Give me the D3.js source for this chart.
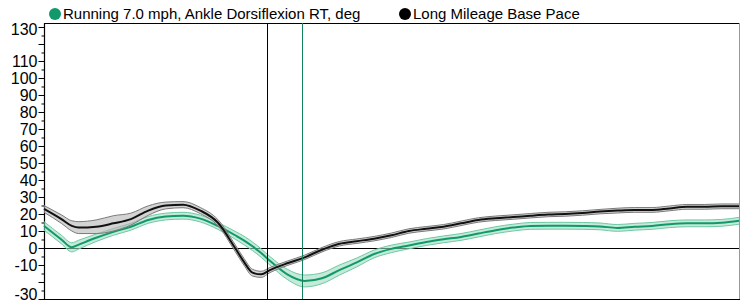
<!DOCTYPE html>
<html>
<head>
<meta charset="utf-8">
<script src="https://cdn.jsdelivr.net/npm/d3@7"></script>
<style>
  body { margin: 0; background: #fff; }
  text { font-family: "Liberation Sans", Arial, sans-serif; }
</style>
</head>
<body>
<div id="chart"></div>
<script>
// gait cycle positions (%) and values
var pct      = [0, 2.5, 4, 5, 7.5, 10, 12.5, 15, 17.5, 20, 22.5, 25, 27.5, 28.75, 30, 31.25, 32.5, 35, 37.5, 40, 42.5, 45, 47.5, 50, 52.5, 55, 57.5, 60, 62.5, 65, 67.5, 70, 72.5, 75, 77.5, 80, 82.5, 85, 87.5, 90, 92.5, 95, 97.5, 100];
var runMean  = [13, 5, 0.4, 2, 6, 9.5, 12.5, 16.5, 18.5, 19, 17.3, 13, 7.5, 4.5, 1, -3, -7.5, -15.5, -19.4, -17.8, -13, -8.5, -3.5, -0.5, 1.5, 3.5, 5.1, 6.5, 8.5, 10.5, 12, 13, 13.1, 13.1, 13, 12.7, 11.8, 12.5, 13, 14, 14.5, 14.5, 14.8, 16];
var runSd    = [2.5, 2.5, 2.7, 2.6, 2.2, 2, 2, 2, 2, 2, 2, 2, 2.3, 2.5, 2.5, 2.5, 2.5, 3, 3.5, 3.2, 3, 2.6, 2.3, 2.2, 2, 2, 2, 2, 2, 2, 2, 2, 2, 2, 2, 2, 2, 2, 2, 2, 2, 2, 2, 2];
var baseMean = [23, 17, 13, 12, 12.5, 14.5, 17, 22, 25, 25.5, 22, 15, 0, -8, -14.5, -15.5, -13, -9, -5.5, -1, 2.5, 4, 5.5, 7.5, 10, 11.3, 12.5, 14.5, 16.5, 17.5, 18.2, 19, 19.7, 20, 20.6, 21.4, 22, 22.4, 22.4, 23.3, 24.2, 24.2, 24.5, 24.5];
var baseSd   = [2, 2.5, 3, 3.5, 4, 4.5, 3.5, 2.8, 2, 1.8, 1.8, 1.8, 2, 2, 2, 1.8, 1.5, 1.3, 1.3, 1.3, 1.3, 1.3, 1.3, 1.3, 1.3, 1.3, 1.3, 1.3, 1.3, 1.3, 1.3, 1.3, 1.3, 1.3, 1.3, 1.3, 1.4, 1.4, 1.4, 1.4, 1.4, 1.4, 1.4, 1.4];
var markers  = [{ at: 32.1, color: "#000" }, { at: 37.1, color: "#12805a" }];
var yLabels  = [130, 110, 100, 90, 80, 70, 60, 50, 40, 30, 20, 10, 0, -10, -30];
var legendNames = ["Running 7.0 mph, Ankle Dorsiflexion RT, deg", "Long Mileage Base Pace"];

var W = 740, H = 302;
var plotL = 44, plotR = 739, plotT = 23, plotB = 299;

var svg = d3.select("#chart").append("svg")
  .attr("width", W).attr("height", H);

var x = d3.scaleLinear().domain([0, 100]).range([plotL, plotR]);
var y = d3.scaleLinear().domain([-30, 132.35]).range([plotB, plotT]);

// frame
svg.append("line").attr("x1", plotL).attr("x2", plotR + 1).attr("y1", plotT + 0.5).attr("y2", plotT + 0.5)
  .attr("stroke", "#000").attr("stroke-width", 1.2);
svg.append("line").attr("x1", plotR + 0.5).attr("x2", plotR + 0.5).attr("y1", plotT).attr("y2", plotB)
  .attr("stroke", "#999");
svg.append("line").attr("x1", plotL).attr("x2", plotR + 1).attr("y1", plotB + 0.5).attr("y2", plotB + 0.5)
  .attr("stroke", "#000").attr("stroke-width", 1.2);

// y axis: major every 10, minor every 5
var minor = d3.range(-30, 131, 5).filter(v => v % 10 !== 0);
var major = d3.range(-30, 131, 10);
var yAxisMinor = d3.axisLeft(y).tickValues(minor).tickSize(3).tickFormat("");
var yAxis = d3.axisLeft(y).tickValues(major).tickSize(6)
  .tickFormat(d => yLabels.indexOf(d) >= 0 ? d : "");

var gMinor = svg.append("g").attr("transform", "translate(" + (plotL + 0.5) + ",0)").call(yAxisMinor);
var gy = svg.append("g").attr("transform", "translate(" + (plotL + 0.5) + ",0)").call(yAxis);
gMinor.select(".domain").remove();
gy.select(".domain").attr("d", "M0," + plotT + "V" + (plotB + 1)).attr("stroke", "#000").attr("stroke-width", 1.2);
gy.selectAll(".tick line").attr("stroke", "#000");
gMinor.selectAll(".tick line").attr("stroke", "#000");
gy.selectAll(".tick text")
  .attr("x", -7)
  .attr("font-size", 16)
  .attr("font-family", "Liberation Sans, Arial, sans-serif")
  .attr("fill", "#000")
  .attr("transform", d => d === 130 ? "translate(0,2)" : d === -30 ? "translate(0,-5)" : null);

// zero line
svg.append("line").attr("x1", plotL).attr("x2", plotR)
  .attr("y1", Math.round(y(0)) + 0.5).attr("y2", Math.round(y(0)) + 0.5)
  .attr("stroke", "#000");

function series(mean, sd, lineColor, fill, edge) {
  var rows = pct.map((p, i) => ({ p: p, m: mean[i], s: sd[i] }));
  var area = d3.area().curve(d3.curveMonotoneX)
    .x(d => x(d.p)).y0(d => y(d.m - d.s)).y1(d => y(d.m + d.s));
  var upper = d3.line().curve(d3.curveMonotoneX).x(d => x(d.p)).y(d => y(d.m + d.s));
  var lower = d3.line().curve(d3.curveMonotoneX).x(d => x(d.p)).y(d => y(d.m - d.s));
  var line = d3.line().curve(d3.curveMonotoneX).x(d => x(d.p)).y(d => y(d.m));
  var g = svg.append("g");
  g.append("path").datum(rows).attr("d", area).attr("fill", fill).attr("fill-opacity", 0.6);
  g.append("path").datum(rows).attr("d", upper).attr("fill", "none").attr("stroke", edge).attr("stroke-width", 1);
  g.append("path").datum(rows).attr("d", lower).attr("fill", "none").attr("stroke", edge).attr("stroke-width", 1);
  return function () {
    g.append("path").datum(rows).attr("d", line).attr("fill", "none").attr("stroke", lineColor).attr("stroke-width", 2);
  };
}

var drawRun = series(runMean, runSd, "#12996b", "#9fdcc2", "#6fc9a2");
var drawBase = series(baseMean, baseSd, "#111", "#b5b5b5", "#7a7a7a");
drawRun();
drawBase();

// toe-off markers
svg.selectAll(".marker").data(markers).enter().append("line")
  .attr("class", "marker")
  .attr("x1", d => Math.round(x(d.at)) + 0.5).attr("x2", d => Math.round(x(d.at)) + 0.5)
  .attr("y1", plotT).attr("y2", plotB)
  .attr("stroke", d => d.color).attr("stroke-width", 1);

// legend
var legendX = [55, 405];
var legendColors = ["#12996b", "#000"];
var lg = svg.selectAll(".lg").data(legendNames).enter().append("g")
  .attr("transform", (d, i) => "translate(" + legendX[i] + ",14)");
lg.append("circle").attr("r", 6).attr("fill", (d, i) => legendColors[i]);
lg.append("text").attr("x", 8).attr("y", 5).attr("font-size", 15).attr("fill", "#000").text(d => d);
</script>
</body>
</html>
